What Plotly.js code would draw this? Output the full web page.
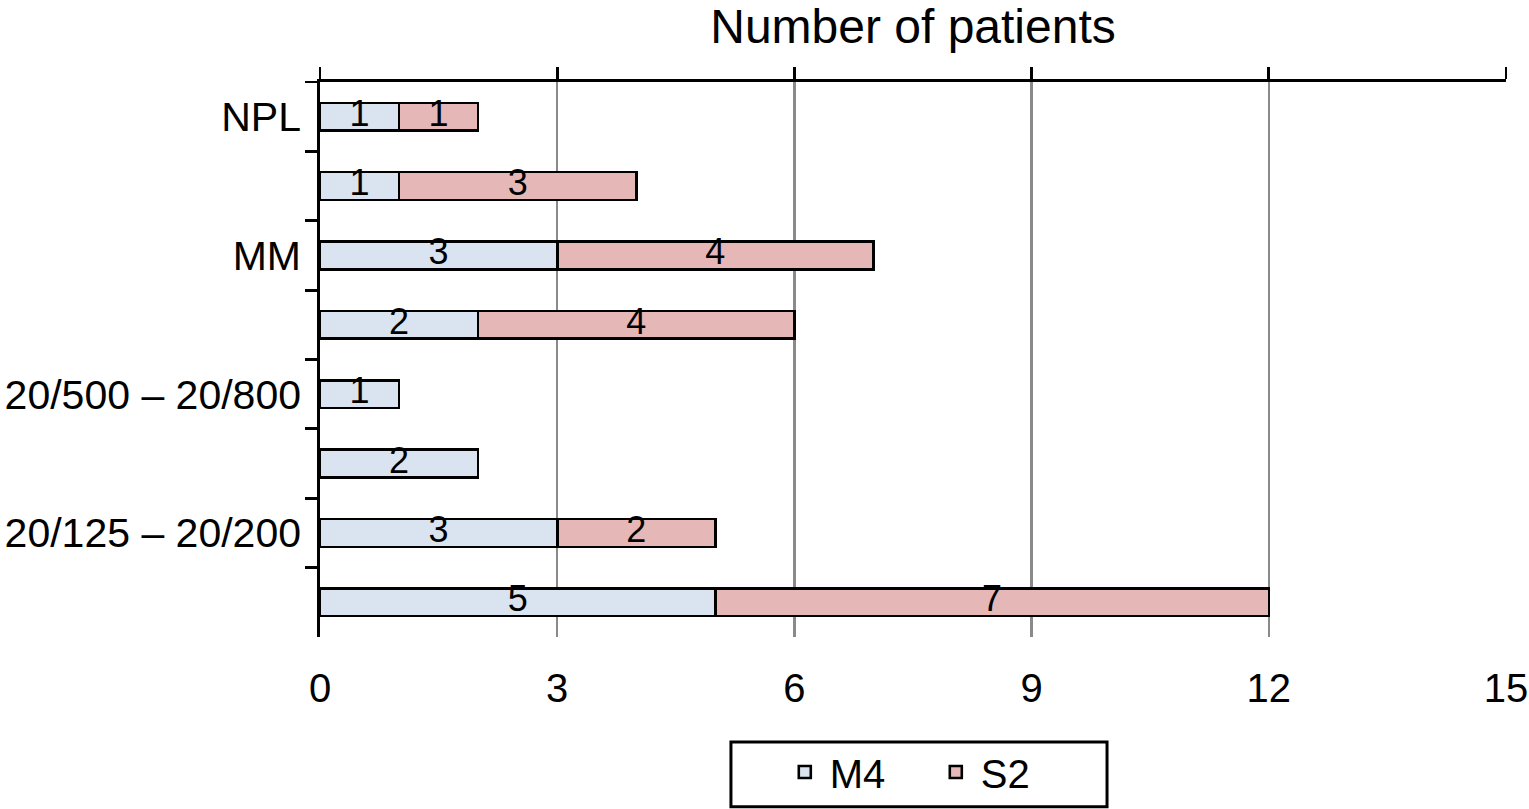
<!DOCTYPE html>
<html>
<head>
<meta charset="utf-8">
<script src="https://cdn.plot.ly/plotly-3.0.1.min.js"></script>
<style>html,body{margin:0;padding:0;background:#fff;}#chart{width:1529px;height:809px;}</style>
</head>
<body>
<div id="chart"></div>
<script>
// Rows top to bottom; unlabeled rows have blank (distinct) names
var categories = ['NPL', ' ', 'MM', '  ', '20/500 – 20/800', '   ', '20/125 – 20/200', '    '];
var seriesNames = ['M4', 'S2'];
var m4 = [1, 1, 3, 2, 1, 2, 3, 5];
var s2 = [1, 3, 4, 4, 0, 0, 2, 7];
var xTicks = [0, 3, 6, 9, 12, 15];
var titleText = 'Number of patients';

var FONT = 'Liberation Sans, Arial, Helvetica, sans-serif';

// Label positions: middle of each stacked segment (derived from the data)
var labX = [], labY = [], labT = [];
for (var i = 0; i < categories.length; i++) {
  if (m4[i] > 0) { labX.push(m4[i] / 2); labY.push(categories[i]); labT.push(String(m4[i])); }
  if (s2[i] > 0) { labX.push(m4[i] + s2[i] / 2); labY.push(categories[i]); labT.push(String(s2[i])); }
}

var traces = [
  {
    type: 'bar', orientation: 'h', name: seriesNames[0],
    x: m4, y: categories,
    marker: {color: '#dae4f0', line: {color: '#000', width: 2.6}},
    hoverinfo: 'x+y'
  },
  {
    type: 'bar', orientation: 'h', name: seriesNames[1],
    x: s2, y: categories,
    marker: {color: '#e6b7b7', line: {color: '#000', width: 2.6}},
    hoverinfo: 'x+y'
  },
  {
    type: 'scatter', mode: 'text', x: labX, y: labY, text: labT,
    textposition: 'middle center',
    textfont: {family: FONT, size: 36, color: '#000'},
    showlegend: false, hoverinfo: 'skip'
  },
  {
    type: 'scatter', mode: 'markers', x: m4, y: categories, xaxis: 'x2',
    marker: {opacity: 0}, showlegend: false, hoverinfo: 'skip'
  }
];

var layout = {
  width: 1529, height: 809,
  margin: {l: 320, r: 23, t: 82, b: 172, autoexpand: false},
  paper_bgcolor: '#fff', plot_bgcolor: '#fff',
  font: {family: FONT, color: '#000'},
  barmode: 'stack', bargap: 0.6,
  title: {
    text: titleText, font: {family: FONT, size: 48, color: '#000'},
    xref: 'paper', x: 0.5, xanchor: 'center',
    yref: 'container', y: 0.968, yanchor: 'middle'
  },
  xaxis: {
    range: [0, 15], tickmode: 'array', tickvals: xTicks,
    showgrid: true, gridcolor: '#8a8a8a', gridwidth: 2.5,
    zeroline: false, showline: false, ticks: '',
    tickfont: {family: FONT, size: 40, color: '#000'},
    ticklabelstandoff: 24, fixedrange: true
  },
  xaxis2: {
    overlaying: 'x', side: 'top', range: [0, 15], matches: 'x',
    tickmode: 'array', tickvals: xTicks,
    showgrid: false, zeroline: false,
    showline: true, linecolor: '#000', linewidth: 2.8,
    ticks: 'outside', ticklen: 12, tickwidth: 2.8, tickcolor: '#000',
    showticklabels: false
  },
  yaxis: {
    type: 'category', categoryorder: 'array', categoryarray: categories,
    autorange: 'reversed',
    tickson: 'boundaries', ticks: 'outside', ticklen: 12, tickwidth: 2.8, tickcolor: '#000',
    showline: true, linecolor: '#000', linewidth: 2.8,
    showgrid: false, zeroline: false,
    tickfont: {family: FONT, size: 41, color: '#000'},
    ticklabelstandoff: 8,
    fixedrange: true
  },
  showlegend: true,
  legend: {
    orientation: 'h', xref: 'container', x: 0.510, xanchor: 'left',
    yref: 'container', y: 0.086, yanchor: 'top',
    borderwidth: 0, bgcolor: 'rgba(0,0,0,0)',
    font: {family: FONT, size: 40, color: '#000'},
    traceorder: 'normal', itemwidth: 40, entrywidth: 96
  },
  shapes: [
    {type: 'rect', xref: 'paper', yref: 'paper', x0: 0.3465, x1: 0.6636, y0: -0.189, y1: -0.306,
     line: {color: '#000', width: 3}, fillcolor: 'rgba(0,0,0,0)', layer: 'above'}
  ]
};

Plotly.newPlot('chart', traces, layout, {displayModeBar: false, staticPlot: true});
</script>
</body>
</html>
